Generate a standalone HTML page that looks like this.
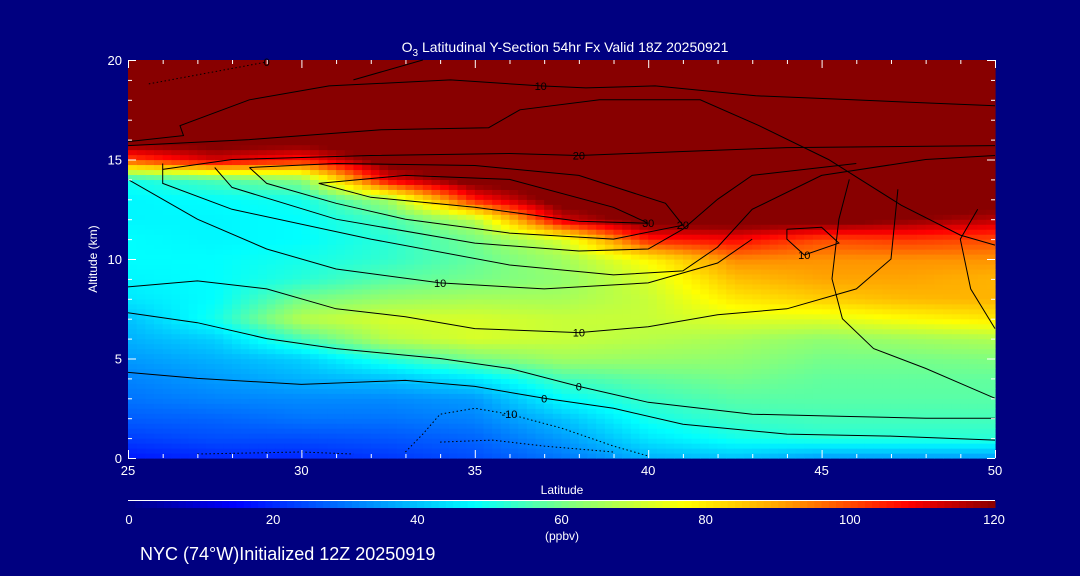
<!DOCTYPE html>
<html><head><meta charset="utf-8"><style>
html,body{margin:0;padding:0;background:#000080;}
svg{display:block;font-family:"Liberation Sans",sans-serif;}
</style></head><body>
<svg id="chart" width="1080" height="576" viewBox="0 0 1080 576">
<rect x="0" y="0" width="1080" height="576" fill="#000080"/>
<g id="field"></g>
<g id="contours"></g>
<g id="axes"></g>
<text x="565" y="52" fill="#fff" font-size="14" text-anchor="middle">O<tspan font-size="10" dy="4">3</tspan><tspan dy="-4"> Latitudinal Y-Section 54hr  Fx Valid 18Z 20250921</tspan></text>
<text x="562" y="494" fill="#fff" font-size="12" text-anchor="middle">Latitude</text>
<text x="97" y="259" fill="#fff" font-size="12" text-anchor="middle" transform="rotate(-90 97 259)">Altitude (km)</text>
<g id="cbar"></g>
<text x="562" y="540" fill="#fff" font-size="12" text-anchor="middle">(ppbv)</text>
<text x="140" y="560" fill="#fff" font-size="18">NYC (74°W)Initialized 12Z 20250919</text>
</svg>
<script>
const lats=[25,27.5,30,32.5,35,37.5,40,42.5,45,47.5,50];
const alts=[0,1,2,3,4,5,6,7,8,9,10,11,12,13,14,15,16,17,18,19,20];
// ozone (ppbv) per latitude column, altitude 0..20 km
const o3=[
[18,23,27,30,32,35,38,40,45,47,48,48,47,47,50,100,125,125,125,125,125],
[20,25,28,32,35,38,42,50,48,48,48,47,47,48,56,112,125,125,125,125,125],
[20,25,30,33,38,42,55,68,60,52,50,48,48,50,62,105,125,125,125,125,125],
[22,26,30,33,40,52,68,72,64,57,53,52,55,65,110,125,125,125,125,125,125],
[25,28,32,35,45,60,72,72,66,60,58,60,68,105,125,125,125,125,125,125,125],
[30,35,40,48,55,65,70,70,66,63,65,72,112,125,125,125,125,125,125,125,125],
[38,45,50,54,58,64,68,70,70,72,78,105,125,125,125,125,125,125,125,125,125],
[40,50,54,57,60,63,66,73,80,86,93,108,125,125,125,125,125,125,125,125,125],
[35,52,55,57,58,60,63,73,84,90,92,100,125,125,125,125,125,125,125,125,125],
[35,52,55,57,58,60,65,77,87,90,92,102,120,125,125,125,125,125,125,125,125],
[35,52,55,57,58,61,67,80,88,88,92,100,115,125,125,125,125,125,125,125,125]];
const cbTicks=[0,20,40,60,80,100,120];
const xTicks=[25,30,35,40,45,50];
const yTicks=[0,5,10,15,20];
const contours=[
 {label:"10",dash:false,pts:[[25,15.9],[26.6,16.2],[26.5,16.7],[28.5,18],[30.8,18.7],[34.3,19],[36.9,18.7],[38.2,18.6],[40.2,18.7],[43.1,18.2],[45.9,18],[50,17.7]]},
 {label:"",dash:false,pts:[[25,15.7],[28.5,16],[32.3,16.5],[35.4,16.6],[36.3,17.5],[38.6,18],[41.5,18],[43.2,16.7],[45.2,15],[47.3,12.7],[49,11.2],[50,10.7]]},
 {label:"20",dash:false,pts:[[26,14.5],[28,15],[32,15.2],[36,15.3],[38,15.2],[41,15.4],[44,15.6],[50,15.7]]},
 {label:"",dash:false,pts:[[26,14.8],[26,13.8],[28,12.5],[32,11],[36,9.7],[39,9.2],[41,9.4],[42,10.6],[43,12.5],[45,14.2],[48,15],[50,15.2]]},
 {label:"",dash:false,pts:[[27.5,14.6],[28,13.6],[31,12],[35,10.8],[38,10.4],[40,10.5],[41,11.5],[42,13],[43,14.2],[46,14.8]]},
 {label:"20",dash:false,pts:[[28.5,14.6],[29,13.8],[31,12.8],[33,12],[36,11.3],[39,11],[41,11.7],[40.5,12.8],[38,14.2],[35,14.7],[31,14.8],[28.5,14.6]]},
 {label:"30",dash:false,pts:[[30.5,13.8],[33,14.2],[36,14],[39,12.6],[40,11.8],[38,11.9],[35,12.6],[32,13.1],[30.5,13.8]]},
 {label:"10",dash:false,pts:[[25,14],[27,12],[29,10.5],[31,9.5],[34,8.8],[37,8.5],[40,8.8],[42,9.8],[43,11]]},
 {label:"10",dash:false,pts:[[25,8.6],[27,8.9],[29,8.5],[31,7.5],[33,7.1],[35,6.5],[38,6.3],[40,6.6],[42,7.2],[44,7.5],[46,8.5],[47,10],[47.2,13.5]]},
 {label:"0",dash:false,pts:[[25,7.3],[27,6.8],[29,6],[31,5.5],[34,5],[36,4.5],[38,3.6],[40,2.8],[43,2.2],[45.5,2.1],[48,2],[50,2]]},
 {label:"0",dash:false,pts:[[25,4.3],[27,4],[30,3.7],[33,3.9],[35,3.6],[37,3],[39,2.5],[41,1.7],[44,1.2],[47,1.1],[50,0.9]]},
 {label:"10",dash:false,pts:[[44,11.5],[45,11.6],[45.5,10.8],[44.5,10.2],[44,11],[44,11.5]]},
 {label:"",dash:false,pts:[[45.8,14],[45.5,12],[45.3,9],[45.6,7],[46.5,5.5],[48,4.5],[50,3]]},
 {label:"",dash:false,pts:[[49.5,12.5],[49,11],[49.3,8.5],[50,6.5]]},
 {label:"-10",dash:true,pts:[[33,0.3],[33.5,1.2],[34,2.2],[35,2.5],[36,2.2],[37.5,1.5],[39,0.6],[40,0.1]]},
 {label:"",dash:true,pts:[[34,0.8],[35.5,0.9],[37,0.6],[39,0.3]]},
 {label:"",dash:true,pts:[[27,0.2],[30,0.3],[31.5,0.2]]},
 {label:"0",dash:true,pts:[[25.6,18.8],[29,19.9]]},
 {label:"",dash:false,pts:[[31.5,19],[33.5,20]]}
];
const X0=128,X1=995,Y0=458,Y1=60;
const xs=l=>X0+(l-25)/25*(X1-X0);
const ys=a=>Y0-(a/20)*(Y0-Y1);
const stops=[[0,[0,0,128]],[15,[0,0,255]],[48,[0,255,255]],[61,[128,255,128]],[77,[255,255,0]],[90,[255,165,0]],[108,[255,0,0]],[120,[136,0,0]]];
function col(v){v=Math.max(0,Math.min(120,v));for(let i=1;i<stops.length;i++){if(v<=stops[i][0]){const a=stops[i-1],b=stops[i];const t=(v-a[0])/(b[0]-a[0]);const c=a[1].map((x,k)=>Math.round(x+(b[1][k]-x)*t));return `rgb(${c[0]},${c[1]},${c[2]})`;}}return "rgb(136,0,0)";}
function val(lat,alt){let i=(lat-25)/2.5,j=alt;i=Math.max(0,Math.min(9.9999,i));j=Math.max(0,Math.min(19.9999,j));const i0=Math.floor(i),j0=Math.floor(j),fi=i-i0,fj=j-j0;return o3[i0][j0]*(1-fi)*(1-fj)+o3[i0+1][j0]*fi*(1-fj)+o3[i0][j0+1]*(1-fi)*fj+o3[i0+1][j0+1]*fi*fj;}
const NS="http://www.w3.org/2000/svg";
const field=document.getElementById('field');
const dl=0.25,da=0.25;
for(let lat=25;lat<50-1e-9;lat+=dl){for(let a=0;a<20-1e-9;a+=da){
 const r=document.createElementNS(NS,'rect');
 
 
 const x=xs(lat),y=ys(a+da);
 r.setAttribute('x',x.toFixed(2));r.setAttribute('y',y.toFixed(2));
 r.setAttribute('width',(xs(lat+dl)-x+0.6).toFixed(2));r.setAttribute('height',(ys(a)-y+0.6).toFixed(2));
 r.setAttribute('fill',col(val(lat+dl/2,a+da/2)));
 field.appendChild(r);}}
const cg=document.getElementById('contours');
contours.forEach(c=>{
 const p=document.createElementNS(NS,'polyline');
 
 
 p.setAttribute('points',c.pts.map(q=>xs(q[0]).toFixed(1)+','+ys(q[1]).toFixed(1)).join(' '));
 p.setAttribute('fill','none');p.setAttribute('stroke','#000');p.setAttribute('stroke-width','1');
 if(c.dash)p.setAttribute('stroke-dasharray','1.5 2.5');
 cg.appendChild(p);
 if(c.label){const m=c.pts[Math.floor(c.pts.length/2)];const t=document.createElementNS(NS,'text');
 
 
 t.setAttribute('x',xs(m[0]));t.setAttribute('y',ys(m[1])+4);t.setAttribute('font-size','11');t.setAttribute('fill','#000');t.setAttribute('text-anchor','middle');t.textContent=c.label;cg.appendChild(t);}
});
const ax=document.getElementById('axes');
function line(x1,y1,x2,y2,name){const l=document.createElementNS(NS,'line');
 
 
 l.setAttribute('x1',x1);l.setAttribute('y1',y1);l.setAttribute('x2',x2);l.setAttribute('y2',y2);l.setAttribute('stroke','#fff');l.setAttribute('stroke-width','1');ax.appendChild(l);}
function txt(x,y,s,anchor,size,parent,name){const t=document.createElementNS(NS,'text');
 
 
 t.setAttribute('x',x);t.setAttribute('y',y);t.setAttribute('fill','#fff');t.setAttribute('font-size',size);t.setAttribute('text-anchor',anchor);t.textContent=s;parent.appendChild(t);}
for(let l=25;l<=50;l++){const x=xs(l)+0.5;const big=(l%5===0);line(x,Y0,x,Y0-(big?8:4),'x-tick');line(x,Y1,x,Y1+(big?8:4),'x-tick-top');}
for(let a=0;a<=20;a++){const y=ys(a)+0.5;const big=(a%5===0);line(X0,y,X0+(big?8:4),y,'y-tick');line(X1,y,X1-(big?8:4),y,'y-tick-right');}
xTicks.forEach(l=>txt(xs(l),475,String(l),'middle',13,ax,'x-tick-label'));
yTicks.forEach(a=>txt(122,ys(a)+5,String(a),'end',13,ax,'y-tick-label'));
const cb=document.getElementById('cbar');
const cl=document.createElementNS(NS,'line');


cl.setAttribute('x1',128);cl.setAttribute('y1',500.5);cl.setAttribute('x2',995);cl.setAttribute('y2',500.5);cl.setAttribute('stroke','#fff');cb.appendChild(cl);
for(let v=0;v<120;v+=1){const r=document.createElementNS(NS,'rect');
 
 
 const x=128+v/120*867;r.setAttribute('x',x);r.setAttribute('y',501);r.setAttribute('width',867/120+0.5);r.setAttribute('height',7);r.setAttribute('fill',col(v+0.5));cb.appendChild(r);}
cbTicks.forEach(v=>txt(129+v/120*865,524,String(v),'middle',13,cb,'colorbar-tick-label'));
</script>
</body></html>
